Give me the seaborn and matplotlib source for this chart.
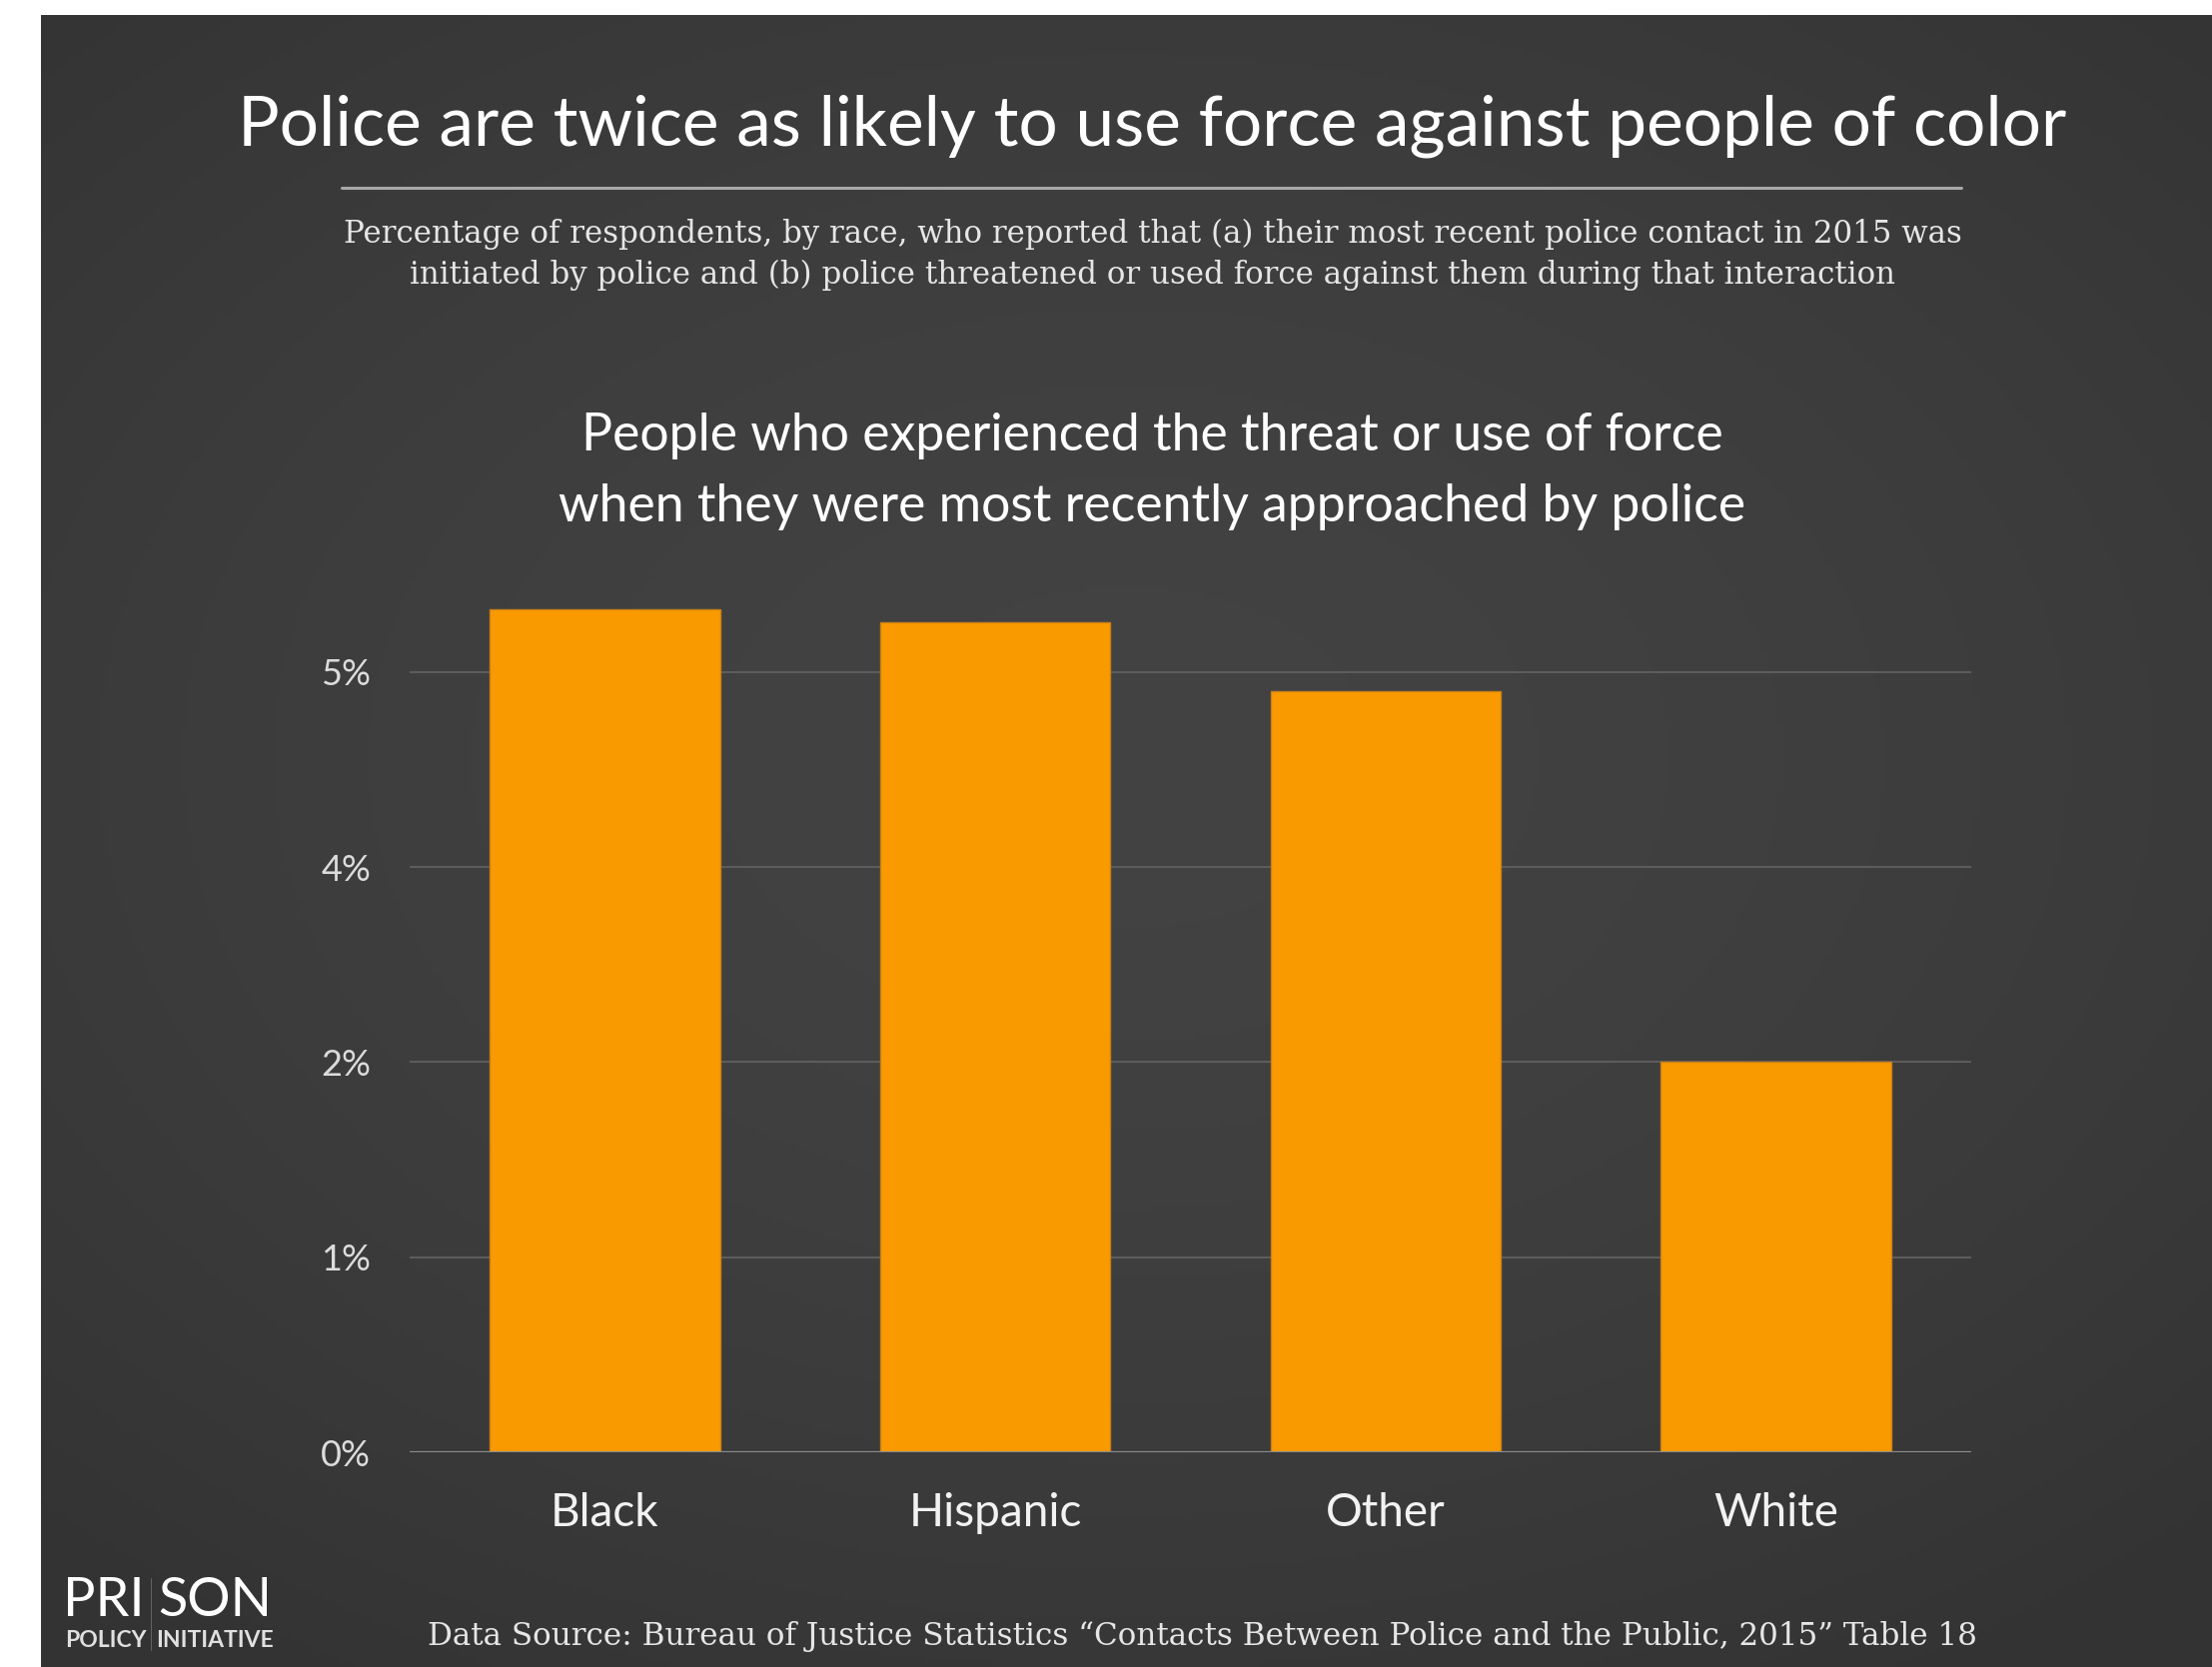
import numpy as np
import pandas as pd
import matplotlib
matplotlib.use('Agg')
import matplotlib.pyplot as plt
import seaborn as sns; sns.set_style('dark')

# values (percent of respondents)
races = ['Black', 'Hispanic', 'Other', 'White']
force_pct = [5.40, 5.32, 4.88, 2.50]
# the original axis rounds its tick labels, so 2.5 shows as "2%" and 3.75 as "4%"
tick_values = [0, 1.25, 2.5, 3.75, 5.0]
tick_labels = ['0%', '1%', '2%', '4%', '5%']

title = 'Police are twice as likely to use force against people of color'
subtitle = ['Percentage of respondents, by race, who reported that (a) their most recent police contact in 2015 was',
            'initiated by police and (b) police threatened or used force against them during that interaction']
chart_title = ['People who experienced the threat or use of force',
               'when they were most recently approached by police']
source = 'Data Source: Bureau of Justice Statistics \u201cContacts Between Police and the Public, 2015\u201d Table 18'

df = pd.DataFrame({'race': races, 'pct': force_pct})

W, H = 2214, 1669
fig = plt.figure(figsize=(W / 100, H / 100), dpi=100, facecolor='white')

# dark radial background, with the thin white margin on the left and top
bg = fig.add_axes([41 / W, 0, 1 - 41 / W, 1 - 15 / H])
yy, xx = np.mgrid[-1:1:300j, -1:1:400j]
r = np.sqrt((xx * 0.9) ** 2 + ((yy + 0.1) * 1.0) ** 2)
shade = 0.262 - 0.06 * np.clip(r / 1.3, 0, 1) ** 1.6
bg.imshow(np.dstack([shade, shade, shade]), aspect='auto', extent=[0, 1, 0, 1])
bg.set_axis_off()

# main chart
ax = fig.add_axes([410 / W, 0.1288, (1973 - 410) / W, 0.5149])
ax.patch.set_alpha(0)
sns.barplot(data=df, x='race', y='pct', color='#f99a00', width=0.59,
            saturation=1, edgecolor='#c98016', linewidth=1, ax=ax, zorder=3)
ax.set_xlim(-0.5, 3.5)
ax.set_ylim(0, 5.5)
ax.set_yticks(tick_values)
ax.set_yticklabels(tick_labels)
ax.set_xlabel('')
ax.set_ylabel('')
for s in ax.spines.values():
    s.set_visible(False)
for v in tick_values[1:]:
    ax.axhline(v, color='#5c5c5c', lw=1.5, zorder=1)
ax.axhline(0, color='#8c8c8c', lw=1.6, zorder=4)
ax.tick_params(axis='y', length=0, pad=28, labelsize=26, labelcolor='#dcdcdc')
ax.tick_params(axis='x', length=0, pad=29, labelsize=33, labelcolor='#f2f2f2')
for t in ax.get_yticklabels():
    t.set_fontfamily('Lato')
for t in ax.get_xticklabels():
    t.set_fontfamily('Lato')

# headings
cx = 0.521
fig.text(cx, 1 - 126 / H, title, ha='center', va='center', color='white',
         fontsize=50, family='Lato')
fig.add_artist(plt.Line2D([342 / W, 1963 / W], [1 - 188 / H] * 2, color='#a8a8a8', lw=2.2))
fig.text(cx, 1 - 234 / H, subtitle[0], ha='center', va='center', color='#e6e6e6',
         fontsize=22.2, family='DejaVu Serif')
fig.text(cx, 1 - 275 / H, subtitle[1], ha='center', va='center', color='#e6e6e6',
         fontsize=22.2, family='DejaVu Serif')
fig.text(cx, 1 - 436 / H, chart_title[0], ha='center', va='center', color='white',
         fontsize=37.3, family='Lato')
fig.text(cx, 1 - 507 / H, chart_title[1], ha='center', va='center', color='white',
         fontsize=37.3, family='Lato')

# footer and logo
fig.text(1203 / W, 1 - 1638 / H, source, ha='center', va='center', color='#e6e6e6',
         fontsize=22.3, family='DejaVu Serif')
fig.text(63 / W, 1 - 1602 / H, 'PRI', ha='left', va='center', color='white',
         fontsize=39, family='Lato')
fig.text(158 / W, 1 - 1602 / H, 'SON', ha='left', va='center', color='white',
         fontsize=39, family='Lato')
fig.text(65 / W, 1 - 1642 / H, 'POLICY', ha='left', va='center', color='#e0e0e0',
         fontsize=16.5, family='Lato', fontweight='bold')
fig.text(156 / W, 1 - 1642 / H, 'INITIATIVE', ha='left', va='center', color='#e0e0e0',
         fontsize=16.5, family='Lato', fontweight='bold')
fig.add_artist(plt.Line2D([151 / W, 151 / W], [1 - 1580 / H, 1 - 1652 / H], color='#6a6a6a', lw=0.6))

fig.savefig('out.png', dpi=100, facecolor=fig.get_facecolor())
